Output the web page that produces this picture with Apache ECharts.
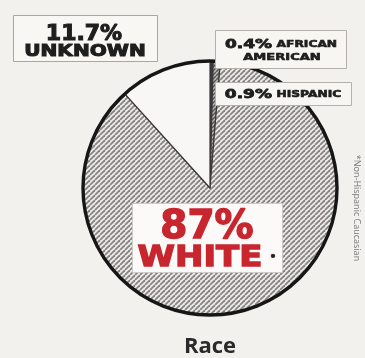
<!DOCTYPE html>
<html>
<head>
<meta charset="utf-8">
<script src="https://cdn.jsdelivr.net/npm/echarts@6/dist/echarts.min.js"></script>
<style>
  html, body { margin: 0; padding: 0; background: #f2f1ee; }
  #chart { width: 365px; height: 358px; }
</style>
</head>
<body>
<div id="chart"></div>
<script>
// Race breakdown, in percent (clockwise from 12 o'clock)
const categories = ['AFRICAN AMERICAN', 'HISPANIC', 'WHITE', 'UNKNOWN'];
const shares = [0.4, 0.9, 87, 11.7];
const titleText = 'Race';
const footnote = '*Non-Hispanic Caucasian';

// Diagonal hatch tile used as a fill pattern
function hatch(bg, fg, p, lw) {
  const c = document.createElement('canvas');
  c.width = p; c.height = p;
  const g = c.getContext('2d');
  g.fillStyle = bg; g.fillRect(0, 0, p, p);
  g.strokeStyle = fg; g.lineWidth = lw;
  for (const o of [-p, 0, p]) {
    g.beginPath(); g.moveTo(o, p); g.lineTo(o + p, 0); g.stroke();
  }
  return c;
}

const fills = [
  '#3c3a3a',
  { image: hatch('#b9b6b6', '#5a5757', 4, 1.4), repeat: 'repeat' },
  { image: hatch('#ecebea', '#878282', 5, 1.8), repeat: 'repeat' },
  '#f8f7f5'
];

const pct = v => v + '%';
const RED = '#c8262e';
const INK = '#1e1e1e';
const HEAVY = '"DejaVu Sans", sans-serif';

function box(x, y, w, h, fill, stroke) {
  return { type: 'rect', shape: { x, y, width: w, height: h }, style: { fill, stroke, lineWidth: 1 }, z: 10 };
}
// heavy display text: bold face thickened with a same-colour outline
function txt(x, y, text, opt) {
  const fill = (opt.style && opt.style.fill) || INK;
  return Object.assign({
    type: 'text', x, y, z: 11,
    style: Object.assign({
      text, align: 'center', verticalAlign: 'middle', fill, stroke: fill, lineWidth: opt.weight || 0.9,
      fontFamily: HEAVY, fontWeight: 'bold'
    }, opt.style || {})
  }, opt.el || {});
}
function richPair(num, word) {
  const s = (size, lw) => ({ fontSize: size, fontFamily: HEAVY, fontWeight: 'bold', fill: INK, stroke: INK, lineWidth: lw });
  return {
    text: '{n|' + num + '} {w|' + word + '}',
    rich: { n: s(12.5, 0.8), w: s(9, 0.6) }
  };
}

const [aaWord1, aaWord2] = categories[0].split(' ');

const chart = echarts.init(document.getElementById('chart'), null, { renderer: 'canvas' });
chart.setOption({
  backgroundColor: '#f2f1ee',
  animation: false,
  series: [
    {
      type: 'pie',
      silent: true,
      center: [210, 188],
      radius: 127,
      startAngle: 90,
      clockwise: true,
      label: { show: false },
      labelLine: { show: false },
      itemStyle: { borderColor: '#3a3838', borderWidth: 1.2 },
      data: categories.map((c, i) => ({ name: c, value: shares[i], itemStyle: { color: fills[i] } }))
    },
    {
      // outer rim of the pie
      type: 'pie',
      silent: true,
      center: [210, 188],
      radius: 127,
      label: { show: false },
      labelLine: { show: false },
      itemStyle: { color: 'rgba(0,0,0,0)', borderColor: '#161616', borderWidth: 3.4 },
      data: [{ name: 'rim', value: 1 }],
      z: 3
    }
  ],
  graphic: [
    // UNKNOWN
    box(13.5, 15.5, 144, 46, '#f8f7f4', '#a9a7a5'),
    txt(84, 34, pct(shares[3]), { style: { fontSize: 22 }, weight: 1.1 }),
    txt(85, 52, categories[3], { style: { fontSize: 15 }, el: { scaleX: 1.34 }, weight: 1.0 }),

    // AFRICAN AMERICAN
    box(215.5, 30.5, 131, 38, '#f7f6f3', '#b3b0ae'),
    { type: 'text', x: 281, y: 45, z: 11, scaleX: 1.36,
      style: Object.assign({ align: 'center', verticalAlign: 'middle' }, richPair(pct(shares[0]), aaWord1)) },
    txt(282, 58, aaWord2, { style: { fontSize: 9 }, el: { scaleX: 1.45 }, weight: 0.6 }),

    // HISPANIC
    box(215.5, 82.5, 136, 23, '#f7f6f3', '#b3b0ae'),
    { type: 'text', x: 283, y: 95, z: 11, scaleX: 1.36,
      style: Object.assign({ align: 'center', verticalAlign: 'middle' }, richPair(pct(shares[1]), categories[1])) },

    // WHITE
    box(132.5, 203.5, 150, 69, '#fbfaf8', '#cfcbc9'),
    txt(207, 228, pct(shares[2]), { style: { fontSize: 39, fill: RED }, weight: 1.4 }),
    txt(200, 258, categories[2], { style: { fontSize: 29, fill: RED }, el: { scaleX: 1.17 }, weight: 1.3 }),
    txt(273, 257, '\u2022', { style: { fontSize: 11 }, weight: 0.5 }),

    // title
    {
      type: 'text', x: 210, y: 347, z: 11,
      style: { text: titleText, align: 'center', verticalAlign: 'middle', fill: '#2a2a2a', fontFamily: '"Open Sans", sans-serif', fontWeight: 'bold', fontSize: 22 }
    },
    // footnote, set vertically along the right edge
    {
      type: 'text', x: 357, y: 208, rotation: -Math.PI / 2, z: 11,
      style: { text: footnote, align: 'center', verticalAlign: 'middle', fill: '#7a7878', fontFamily: '"Open Sans", sans-serif', fontSize: 9 }
    }
  ]
});
</script>
</body>
</html>
